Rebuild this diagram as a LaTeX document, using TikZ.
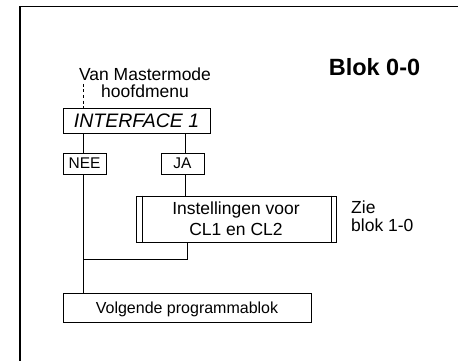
\documentclass[tikz,border=0pt]{standalone}
\usepackage{fontspec}
\setmainfont{Liberation Sans}
\begin{document}
\begin{tikzpicture}[x=1pt,y=-1pt,
  box/.style={draw,line width=0.8pt,inner sep=0pt,rectangle},
  conn/.style={line width=0.8pt},
  lbl/.style={inner sep=0pt}]
\useasboundingbox (0,0) rectangle (458,361);
% frame
\draw[line width=1.6pt] (20,361) -- (20,6.5) -- (458,6.5);
% title
\node[lbl,anchor=base,font=\fontsize{23.5}{26}\selectfont\bfseries] (title) at (374.5,75) {Blok 0-0};
% source label (base anchor = last line)
\node[lbl,anchor=base,align=center,font=\fontsize{17.5}{17}\selectfont] (src) at (145,97) {Van Mastermode\\hoofdmenu};
\coordinate (srcend) at (83,84);
% boxes
\node[box,minimum width=147,minimum height=25,font=\fontsize{19.5}{22}\selectfont\itshape] (iface) at (136.5,120.5) {INTERFACE 1};
\node[box,minimum width=43,minimum height=21,font=\fontsize{15.5}{18}\selectfont] (nee) at (84.5,163.5) {NEE};
\node[box,minimum width=43,minimum height=21,font=\fontsize{15.5}{18}\selectfont] (ja) at (182.5,163.5) {JA};
\node[box,minimum width=200,minimum height=46,align=center,font=\fontsize{17.5}{21}\selectfont] (inst) at (236,219) {Instellingen voor\\CL1 en CL2};
\draw[conn] ([xshift=7pt]inst.north west) -- ([xshift=7pt]inst.south west);
\draw[conn] ([xshift=-5pt]inst.north east) -- ([xshift=-5pt]inst.south east);
\node[lbl,anchor=base west,align=left,font=\fontsize{17.5}{18}\selectfont] (zie) at (351,231) {Zie\\blok 1-0};
\node[box,minimum width=248,minimum height=29,text depth=0pt,font=\fontsize{16}{18}\selectfont] (volg) at (187,307.5) {Volgende programmablok};
% connectors
\coordinate (ncol) at (83,0);
\coordinate (jcol) at (185,0);
\coordinate (icol) at (187,0);
\coordinate (join) at (83,259);
\draw[conn,dash pattern=on 3pt off 2.5pt] (srcend) -- (iface.north -| ncol);
\draw[conn] (iface.south -| ncol) -- (nee.north -| ncol);
\draw[conn] (iface.south -| jcol) -- (ja.north -| jcol);
\draw[conn] (ja.south -| jcol) -- (inst.north -| jcol);
\draw[conn] (inst.south -| icol) |- (join);
\draw[conn] (nee.south -| ncol) -- (volg.north -| ncol);
\end{tikzpicture}
\end{document}
